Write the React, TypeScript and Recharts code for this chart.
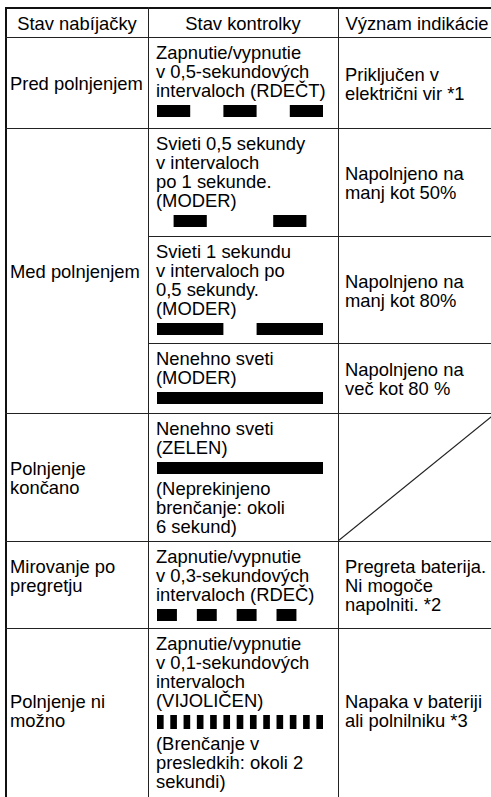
import React from 'react'
import { BarChart, Bar, XAxis, YAxis } from 'recharts'

// table text
const headers = ['Stav nabíjačky', 'Stav kontrolky', 'Význam indikácie']

const chargerStates = [
  ['Pred polnjenjem'],
  ['Med polnjenjem'],
  ['Polnjenje', 'končano'],
  ['Mirovanje po', 'pregretju'],
  ['Polnjenje ni', 'možno'],
]

const ledTextBefore = [
  ['Zapnutie/vypnutie', 'v 0,5-sekundových', 'intervaloch (RDEČT)'],
  ['Svieti 0,5 sekundy', 'v intervaloch', 'po 1 sekunde.', '(MODER)'],
  ['Svieti 1 sekundu', 'v intervaloch po', '0,5 sekundy.', '(MODER)'],
  ['Nenehno sveti', '(MODER)'],
  ['Nenehno sveti', '(ZELEN)'],
  ['Zapnutie/vypnutie', 'v 0,3-sekundových', 'intervaloch (RDEČ)'],
  ['Zapnutie/vypnutie', 'v 0,1-sekundových', 'intervaloch', '(VIJOLIČEN)'],
]

const ledTextAfter = [
  [],
  [],
  [],
  [],
  ['(Neprekinjeno', 'brenčanje: okoli', '6 sekund)'],
  [],
  ['(Brenčanje v', 'presledkih: okoli 2', 'sekundi)'],
]

const meanings = [
  ['Priključen v', 'električni vir *1'],
  ['Napolnjeno na', 'manj kot 50%'],
  ['Napolnjeno na', 'manj kot 80%'],
  ['Napolnjeno na', 'več kot 80 %'],
  [],
  ['Pregreta baterija.', 'Ni mogoče', 'napolniti. *2'],
  ['Napaka v bateriji', 'ali polnilniku *3'],
]

// LED on-periods in seconds, [start, end], over a 2.5 s window
const pulsesPreCharge = [[0, 0.5], [1, 1.5], [2, 2.5]]
const pulsesBelow50 = [[0.25, 0.75], [1.75, 2.25]]
const pulsesBelow80 = [[0, 1], [1.5, 2.5]]
const pulsesAbove80 = [[0, 2.5]]
const pulsesDone = [[0, 2.5]]
const pulsesOverheat = [[0, 0.3], [0.6, 0.9], [1.2, 1.5], [1.8, 2.1]]
const pulsesFault = [
  [0, 0.1], [0.2, 0.3], [0.4, 0.5], [0.6, 0.7], [0.8, 0.9], [1.0, 1.1], [1.2, 1.3],
  [1.4, 1.5], [1.6, 1.7], [1.8, 1.9], [2.0, 2.1], [2.2, 2.3], [2.4, 2.5],
]
const ledPulses = [pulsesPreCharge, pulsesBelow50, pulsesBelow80, pulsesAbove80, pulsesDone, pulsesOverheat, pulsesFault]
const timeDomain = [0, 2.5]

// layout
const rowY = [8, 37, 128, 236, 343, 413, 541, 628, 792]
const colX = [6, 148, 338, 496]
const stateRows = [[1, 2], [2, 5], [5, 6], [6, 7], [7, 8]]
const LINE_H = 19
const font = '"Liberation Sans", Arial, Helvetica, sans-serif'

function PulseStrip({ pulses, height }: { pulses: number[][]; height: number }) {
  const row: Record<string, number | string> = { name: 'led' }
  const segs: boolean[] = []
  let t = timeDomain[0]
  pulses.forEach(([a, b]) => {
    if (a > t) {
      row[`s${segs.length}`] = a - t
      segs.push(false)
    }
    row[`s${segs.length}`] = b - a
    segs.push(true)
    t = b
  })
  return (
    <BarChart
      layout="vertical"
      width={166}
      height={height}
      data={[row]}
      margin={{ top: 0, right: 0, bottom: 0, left: 0 }}
      barCategoryGap={0}
    >
      <XAxis type="number" domain={timeDomain} hide />
      <YAxis type="category" dataKey="name" hide />
      {segs.map((on, i) => (
        <Bar
          key={i}
          dataKey={`s${i}`}
          stackId="led"
          fill={on ? '#000' : 'transparent'}
          isAnimationActive={false}
        />
      ))}
    </BarChart>
  )
}

function Lines({ lines }: { lines: string[] }) {
  return (
    <>
      {lines.map((l, i) => (
        <div key={i} style={{ height: LINE_H, lineHeight: `${LINE_H}px`, whiteSpace: 'nowrap' }}>
          {l}
        </div>
      ))}
    </>
  )
}

function HLine({ y, x1, x2, w = 1, c = '#222' }: { y: number; x1: number; x2: number; w?: number; c?: string }) {
  return <div style={{ position: 'absolute', left: x1, top: y, width: x2 - x1, height: w, background: c }} />
}

function VLine({ x, y1, y2, w = 1, c = '#222' }: { x: number; y1: number; y2: number; w?: number; c?: string }) {
  return <div style={{ position: 'absolute', left: x, top: y1, width: w, height: y2 - y1, background: c }} />
}

export default function App() {
  const cellBase: React.CSSProperties = { position: 'absolute', display: 'flex', flexDirection: 'column' }
  return (
    <div
      style={{
        position: 'absolute', left: 0, top: 0, width: 491, height: 797, overflow: 'hidden',
        background: '#fff', fontFamily: font, fontSize: 18.4, color: '#000',
      }}
    >
      {/* header */}
      {headers.map((h, i) => (
        <div
          key={h}
          style={{
            ...cellBase, left: colX[i], top: rowY[0], width: colX[i + 1] - colX[i], height: rowY[1] - rowY[0] + 2,
            alignItems: 'center', justifyContent: 'center',
          }}
        >
          <Lines lines={[h]} />
        </div>
      ))}

      {/* charger state column */}
      {chargerStates.map((s, i) => {
        const [r0, r1] = stateRows[i]
        const topAlign = i === 3
        return (
          <div
            key={i}
            style={{
              ...cellBase, left: 10, top: rowY[r0] + 1, width: colX[1] - 10, height: rowY[r1] - rowY[r0],
              justifyContent: topAlign ? 'flex-start' : 'center', paddingTop: topAlign ? 15 : 0,
              boxSizing: 'border-box',
            }}
          >
            <Lines lines={s} />
          </div>
        )
      })}

      {/* LED column */}
      {ledTextBefore.map((before, i) => (
        <div
          key={i}
          style={{ ...cellBase, left: 156, top: rowY[i + 1] + 1, paddingTop: 5 }}
        >
          <Lines lines={before} />
          <div style={{ marginTop: 5, marginLeft: 1, marginBottom: 5 }}>
            <PulseStrip pulses={ledPulses[i]} height={i === 6 ? 14 : 12} />
          </div>
          <Lines lines={ledTextAfter[i]} />
        </div>
      ))}

      {/* meaning column */}
      {meanings.map((m, i) => (
        <div
          key={i}
          style={{
            ...cellBase, left: 345, top: rowY[i + 1] + 1, width: colX[3] - 345, height: rowY[i + 2] - rowY[i + 1],
            justifyContent: i === 5 ? 'flex-start' : 'center', paddingTop: i === 5 ? 15 : 0, boxSizing: 'border-box',
          }}
        >
          <Lines lines={m} />
        </div>
      ))}
      <svg
        style={{ position: 'absolute', left: colX[2], top: rowY[5] }}
        width={colX[3] - colX[2]}
        height={rowY[6] - rowY[5]}
      >
        <line x1={0} y1={rowY[6] - rowY[5]} x2={colX[3] - colX[2]} y2={0} stroke="#222" strokeWidth={1.2} />
      </svg>

      {/* grid lines */}
      <HLine y={7} x1={5} x2={colX[3]} w={2} c="#111" />
      <VLine x={5} y1={7} y2={820} w={2} c="#111" />
      {[1, 2, 5, 6, 7].map((r) => (
        <HLine key={r} y={rowY[r]} x1={5} x2={colX[3]} />
      ))}
      {[3, 4].map((r) => (
        <HLine key={r} y={rowY[r]} x1={colX[1]} x2={colX[3]} />
      ))}
      <VLine x={colX[1]} y1={7} y2={820} />
      <VLine x={colX[2]} y1={7} y2={820} />
      <VLine x={colX[3]} y1={7} y2={820} />
    </div>
  )
}
